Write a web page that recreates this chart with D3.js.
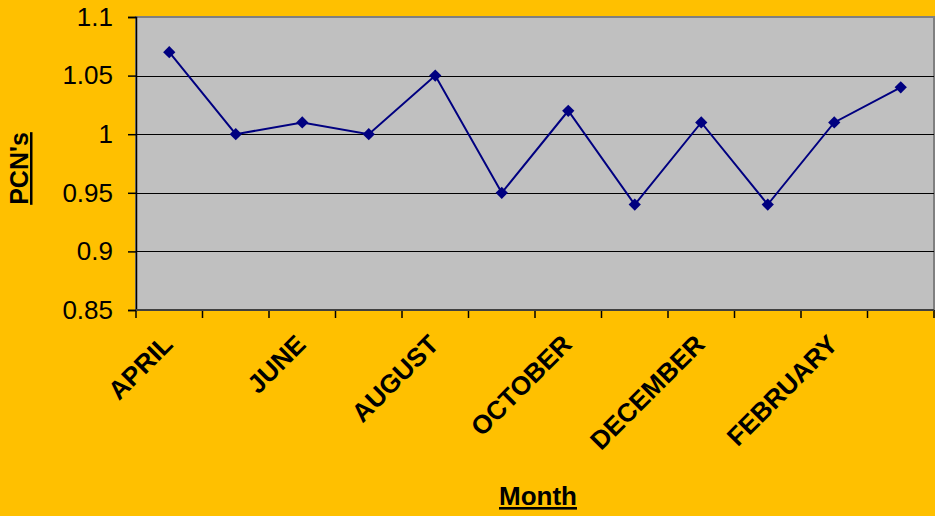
<!DOCTYPE html>
<html>
<head>
<meta charset="utf-8">
<script src="https://cdn.jsdelivr.net/npm/d3@7"></script>
<style>
  body { margin: 0; background: #FFC000; }
  svg { display: block; font-family: Arial, "Liberation Sans", sans-serif; }
</style>
</head>
<body>
<div id="chart"></div>
<script>
// data
const months = ['APRIL', 'MAY', 'JUNE', 'JULY', 'AUGUST', 'SEPTEMBER',
  'OCTOBER', 'NOVEMBER', 'DECEMBER', 'JANUARY', 'FEBRUARY', 'MARCH']
const pcns = [1.07, 1.00, 1.01, 1.00, 1.05, 0.95, 1.02, 0.94, 1.01, 0.94, 1.01, 1.04]
const yTicks = [0.85, 0.9, 0.95, 1, 1.05, 1.1]

// canvas
const width = 935,
  height = 516
const margin = { top: 17, right: 1, bottom: 206, left: 136 }

const svg = d3.select('#chart')
  .append('svg')
  .attr('width', width)
  .attr('height', height)

svg.append('rect')
  .attr('width', width)
  .attr('height', height)
  .attr('fill', '#FFC000')

const x = d3.scaleBand()
  .domain(months)
  .range([margin.left, width - margin.right])
  .padding(0)

const y = d3.scaleLinear()
  .domain([0.85, 1.1])
  .range([height - margin.bottom, margin.top])

// plot area
svg.append('rect')
  .attr('x', margin.left)
  .attr('y', margin.top)
  .attr('width', width - margin.right - margin.left)
  .attr('height', height - margin.bottom - margin.top)
  .attr('fill', '#C0C0C0')
  .attr('stroke', '#808080')
  .attr('stroke-width', 2)

// gridlines
svg.append('g')
  .selectAll('line')
  .data(yTicks.slice(1, -1))
  .enter()
  .append('line')
  .attr('x1', margin.left)
  .attr('x2', width - margin.right)
  .attr('y1', d => Math.round(y(d)) + 0.5)
  .attr('y2', d => Math.round(y(d)) + 0.5)
  .attr('stroke', '#000')
  .attr('stroke-width', 1)

// y axis
const yAxis = svg.append('g')
  .attr('transform', `translate(${margin.left},0)`)
  .call(d3.axisLeft(y).tickValues(yTicks).tickSize(8).tickPadding(15)
    .tickFormat(d => String(d)))
yAxis.select('.domain').attr('stroke', '#000').attr('stroke-width', 1.5)
yAxis.selectAll('.tick line').attr('stroke', '#000').attr('stroke-width', 1.5)
yAxis.selectAll('text')
  .attr('font-size', 26)
  .attr('fill', '#000')
  .attr('font-family', 'Arial, "Liberation Sans", sans-serif')

// x axis: ticks between categories
const edges = months.map(m => x(m)).concat([x.range()[1]])
svg.append('g')
  .selectAll('line')
  .data(edges)
  .enter()
  .append('line')
  .attr('x1', d => d)
  .attr('x2', d => d)
  .attr('y1', y(0.85))
  .attr('y2', y(0.85) + 8)
  .attr('stroke', '#000')
  .attr('stroke-width', 1.5)

svg.append('line')
  .attr('x1', margin.left)
  .attr('x2', width - margin.right)
  .attr('y1', y(0.85))
  .attr('y2', y(0.85))
  .attr('stroke', '#404040')
  .attr('stroke-width', 2)

svg.append('g')
  .selectAll('text')
  .data(months.filter((m, i) => i % 2 === 0))
  .enter()
  .append('text')
  .attr('transform', d => `translate(${x(d) + x.bandwidth() / 2 + 5},${y(0.85) + 36}) rotate(-45)`)
  .attr('text-anchor', 'end')
  .attr('font-size', 26)
  .attr('font-weight', 'bold')
  .attr('fill', '#000')
  .text(d => d)

// line
const line = d3.line()
  .x((d, i) => x(months[i]) + x.bandwidth() / 2)
  .y(d => y(d))

svg.append('path')
  .datum(pcns)
  .attr('d', line)
  .attr('fill', 'none')
  .attr('stroke', '#000080')
  .attr('stroke-width', 2)

svg.append('g')
  .selectAll('path')
  .data(pcns)
  .enter()
  .append('path')
  .attr('d', d3.symbol().type(d3.symbolSquare).size(75))
  .attr('transform', (d, i) => `translate(${x(months[i]) + x.bandwidth() / 2},${y(d)}) rotate(45)`)
  .attr('fill', '#000080')

// axis titles
svg.append('text')
  .attr('x', x.range()[0] + (x.range()[1] - x.range()[0]) / 2 + 3)
  .attr('y', 505)
  .attr('text-anchor', 'middle')
  .attr('font-size', 26)
  .attr('font-weight', 'bold')
  .attr('text-decoration', 'underline')
  .text('Month')

svg.append('text')
  .attr('transform', `translate(28,${(y.range()[0] + y.range()[1]) / 2 + 5}) rotate(-90)`)
  .attr('text-anchor', 'middle')
  .attr('font-size', 25)
  .attr('font-weight', 'bold')
  .attr('text-decoration', 'underline')
  .text("PCN's")
</script>
</body>
</html>
